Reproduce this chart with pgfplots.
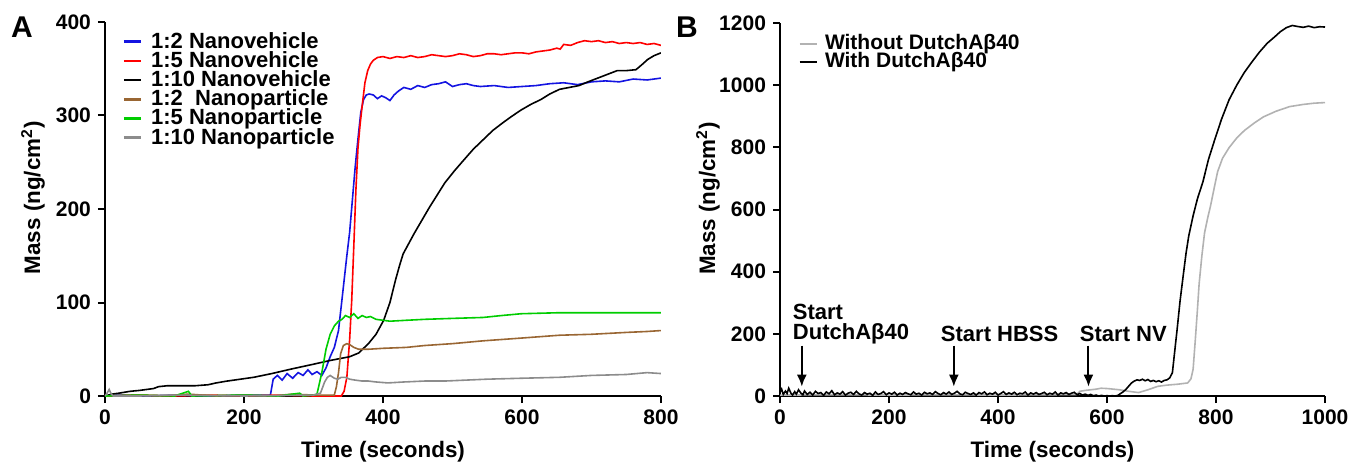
\documentclass[border=0pt]{standalone}
\usepackage{fontspec}
\setmainfont{Liberation Sans}
\usepackage{pgfplots}
\pgfplotsset{compat=1.18}
\usetikzlibrary{arrows.meta}

\definecolor{cblue}{RGB}{20,20,225}
\definecolor{cred}{RGB}{255,0,0}
\definecolor{cbrown}{RGB}{153,102,51}
\definecolor{cgreen}{RGB}{0,205,0}
\definecolor{cgrayA}{RGB}{140,140,140}
\definecolor{cgrayB}{RGB}{178,178,178}

\pgfplotsset{
  gp/.style={
    scale only axis, axis lines*=left,
    axis line style={line width=1pt},
    tick align=outside, major tick length=3.5pt,
    tick style={line width=1pt, black},
    /pgf/number format/assume math mode=true,
    /pgf/number format/set thousands separator={},
    scaled ticks=false,
    ticklabel style={font=\bfseries\fontsize{10.5}{12}\selectfont},
    every axis x label/.style={at={([yshift=-28pt]axis description cs:0.5,0)}, anchor=center,
      font=\bfseries\fontsize{11.2}{13}\selectfont},
    every axis y label/.style={at={([xshift=-36pt]axis description cs:0,0.53)}, rotate=90, anchor=center,
      font=\bfseries\fontsize{11.2}{13}\selectfont},
    legend image code/.code={\draw[#1, line width=1.3pt] (0pt,0pt) -- (8.5pt,0pt);},
    legend cell align=left,
    legend style={draw=none, fill=none,
      font=\bfseries\fontsize{10.5}{10}\selectfont,
      nodes={inner xsep=3pt, inner ysep=0pt, text height=7.5pt, text depth=1.5pt},
      row sep=0pt},
    every axis plot/.append style={line width=0.8pt},
  }
}

\begin{document}
\begin{tikzpicture}
\useasboundingbox (-52.5pt,-35pt) rectangle (624.5pt,198pt);

% ---------------- panel A ----------------
\begin{axis}[gp,
  at={(0pt,0pt)}, anchor=south west,
  width=278pt, height=187pt,
  xmin=0, xmax=800, ymin=0, ymax=400,
  xtick={0,200,400,600,800}, ytick={0,100,200,300,400},
  xlabel={Time (seconds)}, ylabel={Mass (ng/cm\textsuperscript{2})},
  legend style={at={(rel axis cs:0.02,0.985)}, anchor=north west,
    font=\bfseries\fontsize{11}{10}\selectfont,
    nodes={inner xsep=4.5pt, inner ysep=0pt, text height=8pt, text depth=1.6pt}}]

\addplot[cblue] coordinates {
 (0,0)(20,1)(60,0)(100,1)(150,0)(200,1)(238,1)(242,18)(248,22)(255,17)(262,24)
 (270,19)(278,25)(285,22)(292,28)(298,23)(305,26)(312,22)(318,30)(324,42)(330,52)
 (336,70)(342,110)(348,150)(352,175)(356,210)(360,245)(364,275)(368,303)(372,317)
 (376,322)(380,323)(386,322)(392,318)(398,321)(404,319)(410,316)(416,322)(422,326)
 (430,330)(440,328)(450,332)(460,330)(470,333)(480,334)(490,336)(500,331)(510,333)
 (520,334)(530,332)(540,331)(560,332)(580,330)(600,331)(620,332)(640,334)(660,335)
 (680,333)(700,336)(720,337)(740,336)(760,339)(780,338)(800,340)};
\addlegendentry{1:2 Nanovehicle}

\addplot[cred] coordinates {
 (0,0)(50,1)(100,0)(150,1)(200,0)(250,1)(300,0)(340,0)(344,5)(348,20)(352,60)
 (355,102)(358,160)(361,220)(364,265)(367,290)(370,310)(374,335)(378,348)(382,355)
 (386,359)(392,362)(400,363)(410,361)(420,363)(430,362)(440,364)(450,362)(460,363)
 (470,365)(480,364)(490,363)(500,364)(510,366)(520,365)(530,363)(540,364)(550,366)
 (560,366)(570,365)(580,366)(590,367)(600,367)(610,366)(620,368)(630,369)(640,370)
 (650,372)(655,371)(660,376)(670,375)(680,378)(690,380)(700,379)(710,380)(720,378)
 (730,379)(740,377)(750,378)(760,377)(770,378)(780,376)(790,377)(800,375)};
\addlegendentry{1:5 Nanovehicle}

\addplot[black] coordinates {
 (0,0)(10,2)(20,3)(36,5)(50,6)(70,8)(77,10)(90,11)(110,11)(130,11)(148,12)(160,14)
 (176,16)(195,18)(214,20)(240,24)(269,29)(300,34)(324,38)(352,42)(365,46)(379,56)
 (390,66)(401,81)(410,100)(418,124)(424,140)(429,152)(437,163)(445,174)(456,188)
 (467,202)(478,215)(489,228)(503,241)(517,253)(530,264)(544,274)(558,284)(572,292)
 (585,299)(599,306)(613,312)(627,317)(640,323)(654,328)(668,330)(682,332)(695,336)
 (709,340)(723,344)(737,348)(750,348)(764,349)(772,354)(781,360)(790,364)(800,367)};
\addlegendentry{1:10 Nanovehicle}

\addplot[cbrown] coordinates {
 (0,0)(40,1)(80,0)(120,2)(160,0)(200,1)(240,0)(270,2)(300,1)(330,1)(333,10)(336,25)
 (339,45)(343,54)(348,56)(352,55)(358,52)(365,50)(379,50)(400,51)(434,52)(460,54)
 (500,56)(544,59)(600,62)(654,65)(700,66)(750,68)(780,69)(800,70)};
\addlegendentry{1:2~~Nanoparticle}

\addplot[cgreen] coordinates {
 (0,0)(50,1)(100,0)(120,5)(125,0)(200,1)(250,0)(280,3)(285,0)(300,1)(305,2)(312,25)
 (318,50)(324,66)(330,75)(336,80)(341,82)(346,86)(352,84)(358,88)(364,83)(370,86)
 (376,84)(382,85)(390,82)(400,81)(410,80)(434,81)(460,82)(500,83)(544,84)(570,86)
 (599,88)(650,89)(700,89)(750,89)(800,89)};
\addlegendentry{1:5 Nanoparticle}

\addplot[cgrayA] coordinates {
 (0,0)(3,3)(6,7)(9,2)(12,0)(50,0)(100,1)(200,0)(300,1)(310,3)(316,15)(320,20)
 (324,22)(330,19)(335,18)(340,20)(346,20)(352,18)(360,17)(370,16)(379,16)(390,15)
 (407,14)(430,15)(460,16)(489,16)(550,18)(600,19)(654,20)(700,22)(750,23)(780,25)
 (800,24)};
\addlegendentry{1:10 Nanoparticle}
\end{axis}

% ---------------- panel B ----------------
\begin{axis}[gp,
  at={(337.5pt,0pt)}, anchor=south west,
  width=272.5pt, height=186.5pt,
  xmin=0, xmax=1000, ymin=0, ymax=1200,
  xtick={0,200,400,600,800,1000}, ytick={0,200,400,600,800,1000,1200},
  xlabel={Time (seconds)}, ylabel={Mass (ng/cm\textsuperscript{2})},
  legend style={at={(rel axis cs:0.022,0.98)}, anchor=north west,
    nodes={inner xsep=3.5pt, inner ysep=0pt, text height=7.5pt, text depth=1.5pt}}]

\addplot[cgrayB] coordinates {
 (0,3)(100,4)(200,3)(300,4)(400,3)(500,4)(545,5)(550,15)(560,18)(570,20)(580,22)
 (589,25)(600,24)(612,22)(623,20)(640,15)(658,11)(675,20)(693,31)(710,35)(730,38)
 (748,42)(754,55)(758,86)(762,180)(766,280)(769,360)(774,450)(779,525)(785,575)
 (790,612)(797,672)(803,722)(812,765)(824,799)(838,830)(852,854)(870,878)(887,898)
 (910,916)(935,931)(960,938)(980,942)(1000,944)};
\addlegendentry{Without DutchAβ40}

\addplot[black] coordinates {
 (0,12)(3,22)(6,5)(10,16)(13,8)(16,25)(20,9)(23,3)(27,14)(30,6)(34,20)(38,10)
 (42,4)(45,16)(50,5)(55,12)(60,3)(65,15)(70,8)(75,11)(80,2)(85,13)(90,7)(95,17)
 (100,4)(105,10)(110,6)(115,14)(120,3)(125,9)(130,12)(135,5)(140,15)(145,7)(150,3)
 (155,11)(160,6)(165,9)(170,2)(175,13)(180,5)(185,8)(190,14)(195,4)(200,10)(205,6)
 (210,12)(215,3)(220,9)(225,5)(230,11)(235,7)(240,4)(245,13)(250,6)(255,9)(260,3)
 (265,12)(270,7)(275,10)(280,5)(285,14)(290,8)(295,4)(300,11)(305,6)(310,13)(315,5)
 (320,9)(325,15)(330,7)(335,4)(340,12)(345,8)(350,5)(355,10)(360,3)(365,11)(370,7)
 (375,13)(380,4)(385,9)(390,6)(395,12)(400,3)(405,8)(410,14)(415,5)(420,10)(425,6)
 (430,12)(435,4)(440,9)(445,7)(450,13)(455,3)(460,10)(465,6)(470,11)(475,5)(480,8)
 (485,12)(490,4)(495,9)(500,6)(505,13)(510,3)(515,10)(520,7)(525,11)(530,5)(535,9)
 (540,12)(545,4)(550,8)(555,3)(560,6)(565,2)(570,5)(575,1)(580,3)(585,0)(590,2)
 (595,0)(600,1)(605,0)(610,1)(615,0)(620,2)(625,8)(630,14)(635,22)(640,32)(645,42)
 (650,48)(655,52)(660,50)(665,54)(670,49)(675,53)(680,47)(685,50)(690,46)(695,49)
 (700,45)(705,50)(710,52)(715,58)(720,75)(724,140)(729,220)(734,305)(740,390)
 (745,459)(750,515)(758,580)(766,635)(776,689)(786,760)(797,821)(810,890)(824,953)
 (838,1000)(852,1041)(866,1075)(880,1107)(894,1135)(908,1156)(918,1172)(929,1185)
 (940,1192)(949,1189)(960,1186)(970,1190)(980,1185)(990,1188)(1000,1187)};
\addlegendentry{With DutchAβ40}

\begin{scope}[font=\bfseries\fontsize{11}{13}\selectfont]
\node[anchor=west, inner sep=0pt] at (axis cs:23,272) {Start};
\node[anchor=west, inner sep=0pt] at (axis cs:23,200) {DutchAβ40};
\node[anchor=center, inner sep=0pt] at (axis cs:403,200) {Start HBSS};
\node[anchor=center, inner sep=0pt] at (axis cs:630,200) {Start NV};
\end{scope}
\draw[line width=1pt, -{Latex[length=6pt,width=5pt]}] (axis cs:40,162) -- (axis cs:40,30);
\draw[line width=1pt, -{Latex[length=6pt,width=5pt]}] (axis cs:319,162) -- (axis cs:319,30);
\draw[line width=1pt, -{Latex[length=6pt,width=5pt]}] (axis cs:566,162) -- (axis cs:566,30);
\end{axis}

% panel letters
\node[font=\bfseries\fontsize{15}{17}\selectfont, anchor=center] at (-41.5pt,184.5pt) {A};
\node[font=\bfseries\fontsize{15}{17}\selectfont, anchor=center] at (291pt,184.5pt) {B};
\end{tikzpicture}
\end{document}
